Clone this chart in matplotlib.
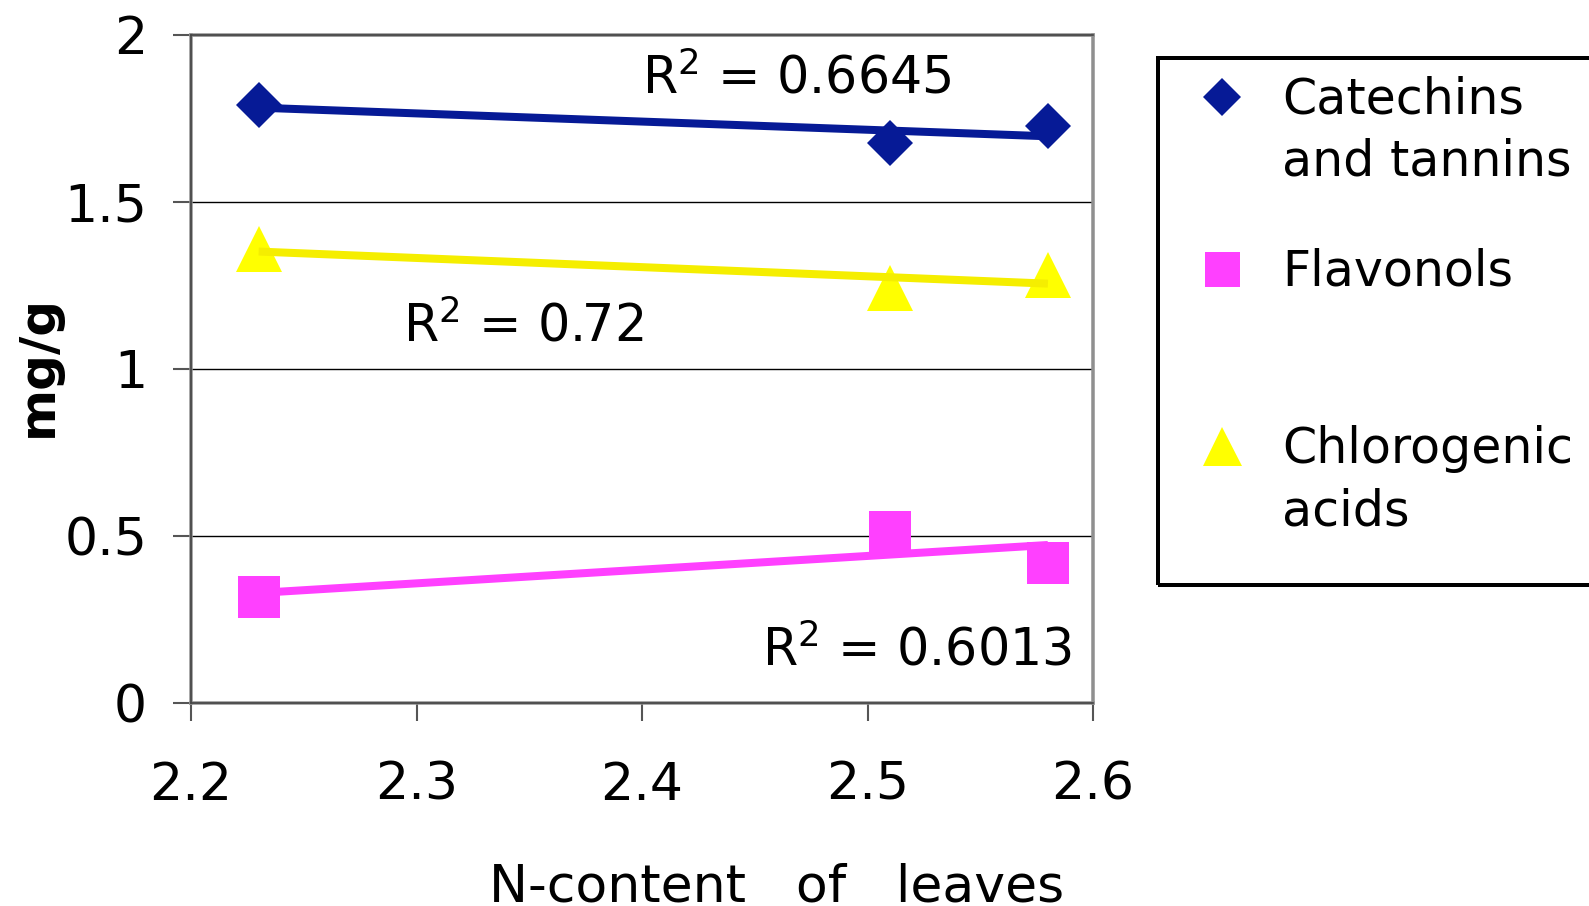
import numpy as np
import matplotlib
matplotlib.use("Agg")
import matplotlib.pyplot as plt
from matplotlib.patches import Rectangle
from matplotlib.lines import Line2D

# ---------------- data ----------------
x_n = [2.23, 2.51, 2.58]
series_names = ["Catechins\nand tannins", "Flavonols", "Chlorogenic\nacids"]
catechins = [1.790, 1.676, 1.727]
flavonols = [0.316, 0.512, 0.419]
chlorogenic = [1.358, 1.243, 1.281]
r2_values = ["0.6645", "0.6013", "0.72"]
x_ticks = [2.2, 2.3, 2.4, 2.5, 2.6]
y_ticks = [0, 0.5, 1, 1.5, 2]
x_label = "N-content   of   leaves"
y_label = "mg/g"

# ---------------- styles ----------------
plt.rcParams['font.family'] = ['DejaVu Sans']
plt.rcParams['mathtext.default'] = 'regular'
FS_TICK = 37.5
FS_R2 = 36.5
FS_LEG = 35.3
W, H = 1589, 906
PX = 0.72  # points per pixel at dpi 100

marker_colors = ['#061A96', '#FF40FF', '#FFFF00']
line_colors = ['#061A96', '#FF40FF', '#F5EE00']
markers = ['D', 's', '^']
plot_ms = [46 / 1.414 * PX, 42.7 * PX, 47 * PX]
leg_ms = [38 / 1.414 * PX, 35 * PX, 39 * PX]

fig = plt.figure(figsize=(W / 100, H / 100), dpi=100)
ax = fig.add_axes([191 / W, 1 - 703 / H, (1093 - 191) / W, (703 - 35) / H])

all_y = [catechins, flavonols, chlorogenic]
for i, ys in enumerate(all_y):
    ax.plot(x_n, ys, linestyle='none', marker=markers[i], ms=plot_ms[i],
            color=marker_colors[i], mew=0, zorder=3, clip_on=False)
    fit = np.polyfit(x_n, ys, 1)
    xs = np.array([min(x_n), max(x_n)])
    ax.plot(xs, np.polyval(fit, xs), color=line_colors[i], lw=8 * PX,
            solid_capstyle='butt', zorder=4)

ax.set_xlim(x_ticks[0], x_ticks[-1])
ax.set_ylim(y_ticks[0], y_ticks[-1])
ax.set_xticks(x_ticks)
ax.set_yticks(y_ticks)
ax.set_xticklabels([f"{v:g}" for v in x_ticks])
ax.set_yticklabels([f"{v:g}" for v in y_ticks])
ax.tick_params(axis='both', direction='out', length=18 * PX, width=1.5,
               color='#555555', labelsize=FS_TICK)
ax.tick_params(axis='y', pad=26 * PX)
ax.tick_params(axis='x', pad=40 * PX)
ax.yaxis.grid(True, color='black', lw=1.0, zorder=1)
ax.set_axisbelow(True)
for s in ax.spines.values():
    s.set_color('#8f8f8f')
    s.set_linewidth(3.5 * PX)
# thin dark outer edges of the frame (Excel-like look)
ax.axhline(y_ticks[-1], color='#444444', lw=1.2, zorder=5, clip_on=False)
ax.axhline(y_ticks[0], color='#444444', lw=1.2, zorder=5, clip_on=False)
ax.axvline(x_ticks[0], color='#444444', lw=1.2, zorder=5, clip_on=False)

# R^2 annotations
r2_pos = [(642, 94), (762, 665), (403, 341)]
for (px, py), val in zip(r2_pos, r2_values):
    fig.text(px / W, 1 - py / H, "R$^2$ = " + val, fontsize=FS_R2,
             ha='left', va='baseline')

# axis labels
fig.text(37.5 / W, 1 - 366 / H, y_label, rotation=90, fontsize=36,
         fontweight='bold', ha='center', va='center')
fig.text(777 / W, 1 - 902 / H, x_label, fontsize=FS_TICK, ha='center',
         va='baseline')

# legend (manual, Excel-like layout)
fig.add_artist(Rectangle((1158 / W, 1 - 585 / H), (1640 - 1158) / W,
                         (585 - 58) / H, transform=fig.transFigure,
                         fill=False, ec='black', lw=4 * PX, clip_on=False))
leg_marker_y = [97, 269, 445.5]
leg_text_baseline = [175, 285, 525]
for i in range(3):
    fig.add_artist(Line2D([1222 / W], [1 - leg_marker_y[i] / H],
                          marker=markers[i], ms=leg_ms[i], mew=0,
                          color=marker_colors[i], linestyle='none',
                          transform=fig.transFigure))
    fig.text(1282 / W, 1 - leg_text_baseline[i] / H, series_names[i],
             fontsize=FS_LEG, ha='left', va='baseline', linespacing=1.36)

fig.savefig("out.png", dpi=100)
